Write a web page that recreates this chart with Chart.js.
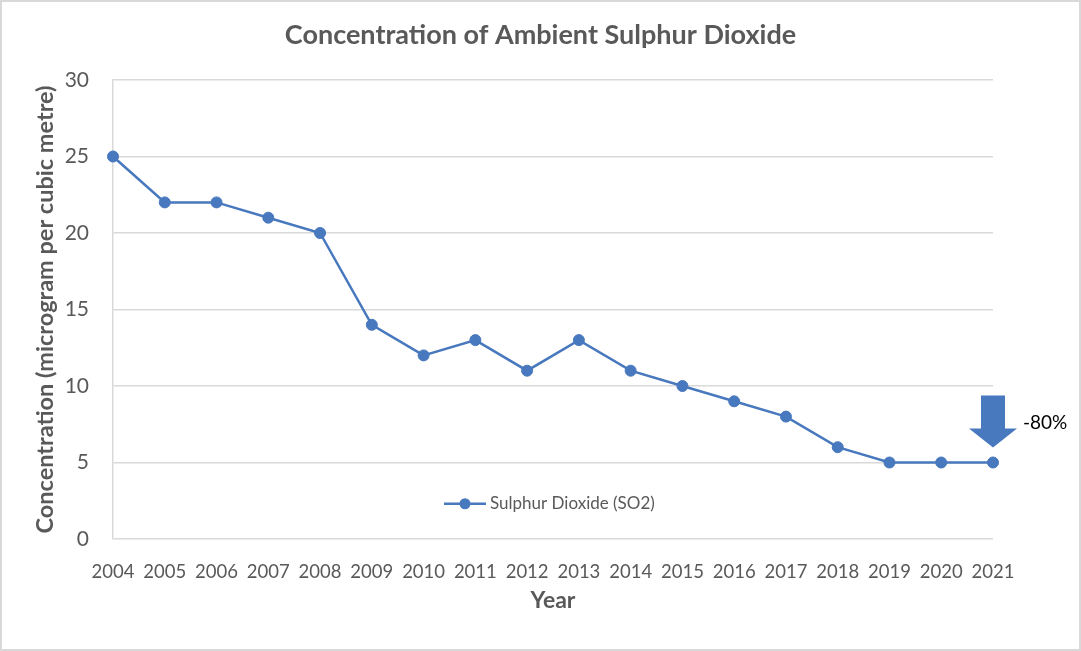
<!DOCTYPE html>
<html lang="en">
    <head>
        <meta charset="utf-8">
        <title>SO2 chart</title>
        <style>
            body { margin: 0; background: #fff; }
            #wrap { width: 1081px; height: 651px; position: relative; }
        </style>
    </head>
    <body>
    <div id="wrap">
        <canvas id="myChart"></canvas>
    </div>

<script src="https://cdn.jsdelivr.net/npm/chart.js@4.4.1/dist/chart.umd.min.js"></script>
<script type="text/javascript">
    // data
    const years = ['2004','2005','2006','2007','2008','2009','2010','2011','2012','2013','2014','2015','2016','2017','2018','2019','2020','2021'];
    const so2 = [25, 22, 22, 21, 20, 14, 12, 13, 11, 13, 11, 10, 9, 8, 6, 5, 5, 5];
    const seriesName = 'Sulphur Dioxide (SO2)';
    const changeLabel = '-80%';

    const blue = '#4878bd';
    const grey = '#595959';
    const gridGrey = '#d9d9d9';
    const fontFam = "Lato, 'Open Sans', sans-serif";

    // white background + thin outer frame
    const framePlugin = {
        id: 'frame',
        beforeDraw(chart) {
            let c = chart.ctx;
            c.save();
            c.fillStyle = '#fff';
            c.fillRect(0, 0, chart.width, chart.height);
            c.strokeStyle = gridGrey;
            c.lineWidth = 2;
            c.strokeRect(1, 1, chart.width - 2, chart.height - 2);
            c.restore();
        }
    };

    // legend drawn inside the plot area, plus the down arrow on the last point
    const extrasPlugin = {
        id: 'extras',
        afterDraw(chart) {
            let c = chart.ctx;
            let area = chart.chartArea;
            let xs = chart.scales.x, ys = chart.scales.y;
            c.save();

            // legend
            let ly = ys.getPixelForValue(2.5) + 3;
            let lx = (area.left + area.right) / 2 - 109;
            c.strokeStyle = blue;
            c.lineWidth = 2.5;
            c.beginPath();
            c.moveTo(lx, ly);
            c.lineTo(lx + 42, ly);
            c.stroke();
            c.fillStyle = blue;
            c.beginPath();
            c.arc(lx + 21, ly, 5.5, 0, Math.PI * 2);
            c.fill();
            c.fillStyle = grey;
            c.font = '17px ' + fontFam;
            c.textBaseline = 'middle';
            c.textAlign = 'left';
            c.fillText(seriesName, lx + 46, ly);

            // arrow above the last point
            let last = so2.length - 1;
            let px = xs.getPixelForValue(last);
            let py = ys.getPixelForValue(so2[last]);
            c.fillStyle = blue;
            c.beginPath();
            c.moveTo(px - 12, py - 67);
            c.lineTo(px + 12, py - 67);
            c.lineTo(px + 12, py - 34);
            c.lineTo(px + 24, py - 34);
            c.lineTo(px, py - 15);
            c.lineTo(px - 24, py - 34);
            c.lineTo(px - 12, py - 34);
            c.closePath();
            c.fill();

            c.fillStyle = '#000';
            c.font = '19px ' + fontFam;
            c.fillText(changeLabel, px + 30, py - 40);
            c.restore();
        }
    };

    var ctx = document.getElementById('myChart');
    var myChart = new Chart(ctx, {
        type: 'line',
        data: {
            labels: years,
            datasets: [{
                label: seriesName,
                data: so2,
                borderColor: blue,
                backgroundColor: blue,
                borderWidth: 2.5,
                pointRadius: 5.5,
                pointBorderWidth: 1,
                pointHoverRadius: 5.5,
                tension: 0
            }]
        },
        options: {
            responsive: true,
            maintainAspectRatio: false,
            animation: false,
            layout: { padding: { left: 0, right: 0, top: 0, bottom: 37 } },
            plugins: {
                legend: { display: false },
                tooltip: { enabled: false },
                title: {
                    display: true,
                    text: 'Concentration of Ambient Sulphur Dioxide',
                    color: grey,
                    font: { family: fontFam, size: 27, weight: 'bold' },
                    padding: { top: 19, bottom: 28.6 }
                }
            },
            scales: {
                x: {
                    offset: false,
                    grid: { display: false },
                    border: { display: false },
                    ticks: {
                        color: grey,
                        font: { family: fontFam, size: 18.5 },
                        padding: 14,
                        maxRotation: 0,
                        autoSkip: false
                    },
                    title: {
                        display: true,
                        text: 'Year',
                        color: grey,
                        font: { family: fontFam, size: 23, weight: 'bold' },
                        padding: { top: 10, bottom: 0 }
                    },
                    afterFit(scale) { scale.height = 75; }
                },
                y: {
                    min: 0,
                    max: 30,
                    ticks: {
                        stepSize: 5,
                        color: grey,
                        font: { family: fontFam, size: 21 },
                        padding: 24
                    },
                    grid: { color: gridGrey, lineWidth: 1.5, drawTicks: false },
                    border: { display: true, color: gridGrey, width: 1.5 },
                    title: {
                        display: true,
                        text: 'Concentration (microgram per cubic metre)',
                        color: grey,
                        font: { family: fontFam, size: 23.5, weight: 'bold' },
                        padding: { top: 31, bottom: 0 }
                    },
                    afterFit(scale) { scale.width = 113; }
                },
                // empty right-hand axis, only reserves room so the title stays centred on the page
                yRight: {
                    position: 'right',
                    min: 0,
                    max: 30,
                    grid: { display: false },
                    border: { display: false },
                    ticks: { display: false },
                    afterFit(scale) { scale.width = 88; }
                }
            }
        },
        plugins: [framePlugin, extrasPlugin]
    });
</script>
    </body>
</html>
